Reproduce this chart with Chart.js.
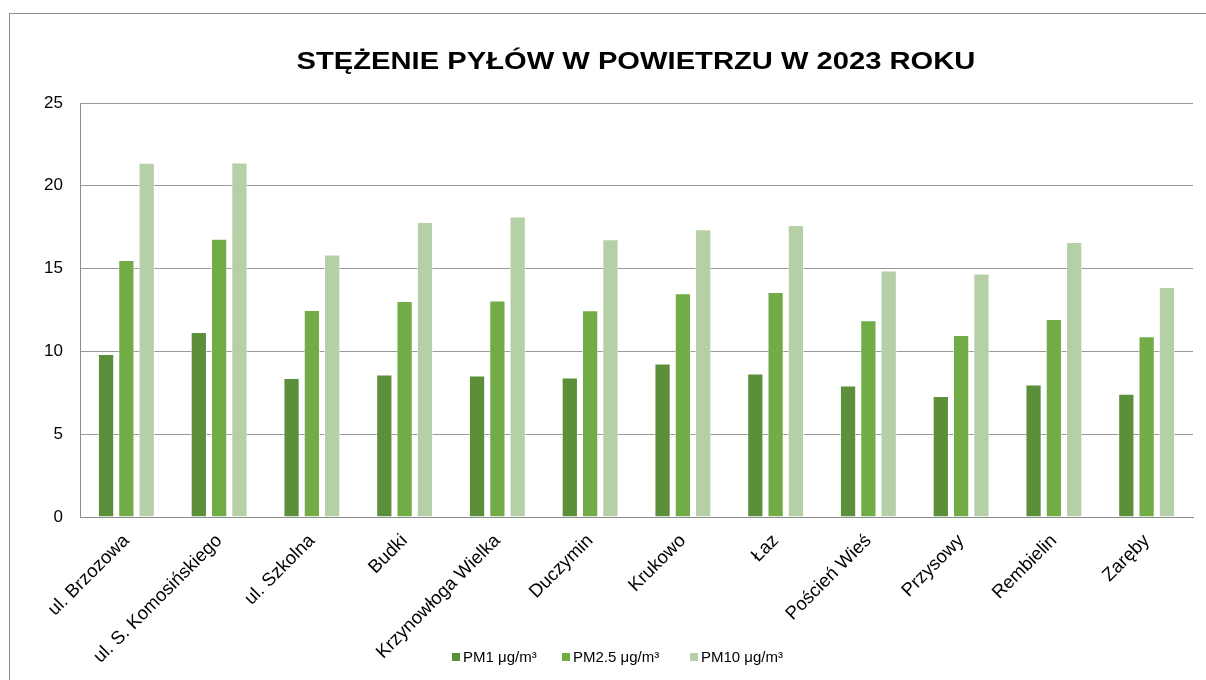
<!DOCTYPE html>
<html>
<head>
<meta charset="utf-8">
<script src="https://cdn.jsdelivr.net/npm/chart.js@4.4.1/dist/chart.umd.min.js"></script>
<style>
  html, body { margin: 0; padding: 0; background: #fff; }
  body { width: 1206px; height: 680px; position: relative; overflow: hidden; font-family: "Liberation Sans", Arial, sans-serif; }
  #frame { position: absolute; left: 9px; top: 13px; width: 1300px; height: 800px; border-left: 1px solid #8c8c8c; border-top: 1px solid #8c8c8c; }
  #wrap { position: absolute; left: 0; top: 0; width: 1206px; height: 680px; }
  #title { position: absolute; left: 0; width: 1272px; top: 46px; text-align: center; font-weight: bold; font-size: 24px; line-height: 30px; color: #000; transform: scaleX(1.215); transform-origin: 636px 0; white-space: nowrap; }
  .lg { position: absolute; top: 648px; font-size: 15px; line-height: 18px; color: #000; white-space: nowrap; }
  .lg i { display: inline-block; width: 8px; height: 8px; margin-right: 3px; vertical-align: 1px; }
</style>
</head>
<body>
<div id="frame"></div>
<div id="wrap"><canvas id="c" width="1206" height="680"></canvas></div>
<div id="title">STĘŻENIE PYŁÓW W POWIETRZU W 2023 ROKU</div>
<div id="legend"></div>
<script>
const categories = ["ul. Brzozowa", "ul. S. Komosińskiego", "ul. Szkolna", "Budki", "Krzynowłoga Wielka", "Duczymin", "Krukowo", "Łaz", "Poścień Wieś", "Przysowy", "Rembielin", "Zaręby"];
const pm1  = [9.84, 11.17, 8.39, 8.61, 8.55, 8.43, 9.27, 8.67, 7.94, 7.30, 8.00, 7.44];
const pm25 = [15.52, 16.81, 12.50, 13.04, 13.08, 12.48, 13.51, 13.59, 11.88, 10.99, 11.96, 10.91];
const pm10 = [21.39, 21.41, 15.85, 17.82, 18.15, 16.77, 17.38, 17.64, 14.88, 14.70, 16.61, 13.89];
const seriesNames = ["PM1 μg/m³", "PM2.5 μg/m³", "PM10 μg/m³"];
const seriesColors = ["#5b8f3a", "#71ac47", "#b5cfa7"];
const yTicks = [0, 5, 10, 15, 20, 25];

const FONT = "'Liberation Sans', Arial, sans-serif";
const values = [pm1, pm25, pm10];

new Chart(document.getElementById('c'), {
  type: 'bar',
  data: {
    labels: categories,
    datasets: seriesNames.map((n, i) => ({
      label: n,
      data: values[i],
      backgroundColor: seriesColors[i],
      borderColor: 'rgba(255,255,255,0.6)',
      borderWidth: 1,
      categoryPercentage: 0.657,
      barPercentage: 0.8
    }))
  },
  options: {
    responsive: false,
    animation: false,
    events: [],
    layout: { padding: { top: 103, right: 13, left: 0, bottom: 0 } },
    plugins: { legend: { display: false }, title: { display: false }, tooltip: { enabled: false } },
    scales: {
      x: {
        grid: { display: false },
        border: { display: true, color: '#8c8c8c', width: 1 },
        ticks: { color: '#000', font: { family: FONT, size: 18.5 }, minRotation: 45, maxRotation: 45, autoSkip: false, padding: 5, labelOffset: 0 },
        afterFit: s => { s.height = 163; }
      },
      y: {
        min: 0, max: 25,
        afterBuildTicks: s => { s.ticks = yTicks.map(v => ({ value: v })); },
        grid: { color: '#999999', lineWidth: 1, drawTicks: false },
        border: { display: true, color: '#8c8c8c', width: 1 },
        ticks: { color: '#000', font: { family: FONT, size: 17 }, padding: 17 },
        afterFit: s => { s.width = 80; }
      }
    }
  }
});

// Legend (HTML) from series arrays
const legendX = [452, 562, 690];
const lg = document.getElementById('legend');
seriesNames.forEach((n, i) => {
  const d = document.createElement('div');
  d.className = 'lg';
  d.style.left = legendX[i] + 'px';
  const sq = document.createElement('i');
  sq.style.background = seriesColors[i];
  d.appendChild(sq);
  d.appendChild(document.createTextNode(n));
  lg.appendChild(d);
});
</script>
</body>
</html>
